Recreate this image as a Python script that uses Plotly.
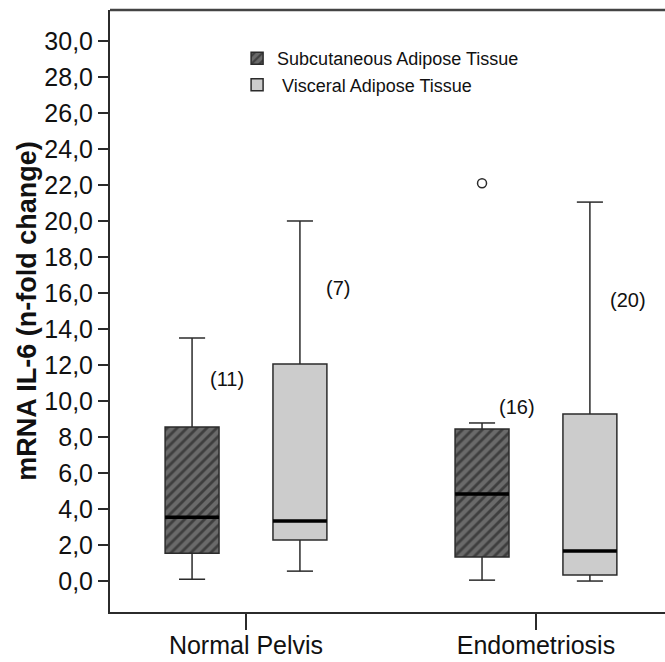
import plotly.graph_objects as go

categories = ["Normal Pelvis", "Endometriosis"]
series_names = ["Subcutaneous Adipose Tissue", " Visceral Adipose Tissue"]

# box statistics per series, one value per category
sub_low = [0.1, 0.05]
sub_q1 = [1.55, 1.33]
sub_med = [3.55, 4.83]
sub_q3 = [8.56, 8.44]
sub_high = [13.5, 8.78]
sub_n = ["(11)", "(16)"]

vis_low = [0.55, 0.0]
vis_q1 = [2.28, 0.33]
vis_med = [3.33, 1.67]
vis_q3 = [12.05, 9.28]
vis_high = [20.0, 21.05]
vis_n = ["(7)", "(20)"]

outlier_cat = [1]
outlier_val = [22.1]

n_label_y_sub = [11.2, 9.67]
n_label_y_vis = [16.3, 15.6]

y_ticks = [0, 2, 4, 6, 8, 10, 12, 14, 16, 18, 20, 22, 24, 26, 28, 30]

OFF = 0.186
BW = 0.186
CAP = 0.045
LINE = "#2b2b2b"
FONT = "Liberation Sans, Arial, sans-serif"

fig = go.Figure()

series = [
    dict(name=series_names[0], off=-OFF, low=sub_low, q1=sub_q1, med=sub_med, q3=sub_q3,
         high=sub_high, n=sub_n, ny=n_label_y_sub,
         marker=dict(color="#6a6a6a", line=dict(color=LINE, width=1.5),
                     pattern=dict(shape="/", fillmode="overlay", fgcolor="#111111",
                                  size=7, solidity=0.4))),
    dict(name=series_names[1], off=OFF, low=vis_low, q1=vis_q1, med=vis_med, q3=vis_q3,
         high=vis_high, n=vis_n, ny=n_label_y_vis,
         marker=dict(color="#cccccc", line=dict(color=LINE, width=1.5))),
]

for s in series:
    xs = [i + s["off"] for i in range(len(categories))]
    fig.add_trace(go.Bar(
        x=xs, y=[h - l for h, l in zip(s["q3"], s["q1"])], base=s["q1"], width=BW,
        marker=s["marker"], name=s["name"], showlegend=True, hoverinfo="skip"))

for s in series:
    xs = [i + s["off"] for i in range(len(categories))]
    wx, wy, cx, cy, mx, my = [], [], [], [], [], []
    for x, lo, q1, q3, hi, md in zip(xs, s["low"], s["q1"], s["q3"], s["high"], s["med"]):
        wx += [x, x, None, x, x, None]
        wy += [q3, hi, None, lo, q1, None]
        cx += [x - CAP, x + CAP, None, x - CAP, x + CAP, None]
        cy += [hi, hi, None, lo, lo, None]
        mx += [x - BW / 2, x + BW / 2, None]
        my += [md, md, None]
    fig.add_trace(go.Scatter(x=wx, y=wy, mode="lines", line=dict(color=LINE, width=1.5),
                             showlegend=False, hoverinfo="skip"))
    fig.add_trace(go.Scatter(x=cx, y=cy, mode="lines", line=dict(color=LINE, width=1.5),
                             showlegend=False, hoverinfo="skip"))
    fig.add_trace(go.Scatter(x=mx, y=my, mode="lines", line=dict(color="#000000", width=3.5),
                             showlegend=False, hoverinfo="skip"))

fig.add_trace(go.Scatter(
    x=[c + series[0]["off"] for c in outlier_cat], y=outlier_val, mode="markers",
    marker=dict(symbol="circle-open", size=9, color=LINE, line=dict(width=1.5)),
    showlegend=False, hoverinfo="skip"))

label_dx = [0.12, 0.13]
for k, s in enumerate(series):
    for i, (txt, yv) in enumerate(zip(s["n"], s["ny"])):
        fig.add_annotation(x=i + s["off"] + label_dx[k], y=yv, text=txt, showarrow=False,
                           font=dict(size=20, color="#111111", family=FONT))

fig.update_layout(
    width=665, height=662,
    margin=dict(l=110, r=0, t=10, b=50),
    paper_bgcolor="white", plot_bgcolor="white",
    separators=",.",
    barmode="overlay",
    font=dict(family=FONT, color="#111111"),
    legend=dict(x=0.229, y=0.95, xanchor="left", yanchor="top",
                font=dict(size=18, family=FONT, color="#111111"),
                bgcolor="rgba(0,0,0,0)", tracegroupgap=0, itemwidth=30),
    xaxis=dict(range=[-0.469, 1.445], tickvals=list(range(len(categories))),
               ticktext=categories, ticks="outside", ticklen=16, tickwidth=1.5,
               tickcolor=LINE, showline=True, linecolor=LINE, linewidth=2,
               mirror=False, showgrid=False, zeroline=False, ticklabelstandoff=-6,
               tickfont=dict(size=25, family=FONT, color="#111111")),
    yaxis=dict(range=[-1.72, 31.72], tickvals=y_ticks, tickformat=".1f",
               ticks="outside", ticklen=10, tickwidth=2, tickcolor=LINE,
               showline=True, linecolor=LINE, linewidth=2, showgrid=False,
               zeroline=False, tickfont=dict(size=25, family=FONT, color="#111111"),
               title=dict(text="<b>mRNA IL-6 (n-fold change)</b>", standoff=0,
                          font=dict(size=27, family=FONT, color="#111111"))),
)

# top frame line
fig.add_shape(type="line", xref="paper", yref="paper", x0=0, x1=1, y0=1, y1=1,
              line=dict(color="#444444", width=2.5))

fig.write_html("out.html")
